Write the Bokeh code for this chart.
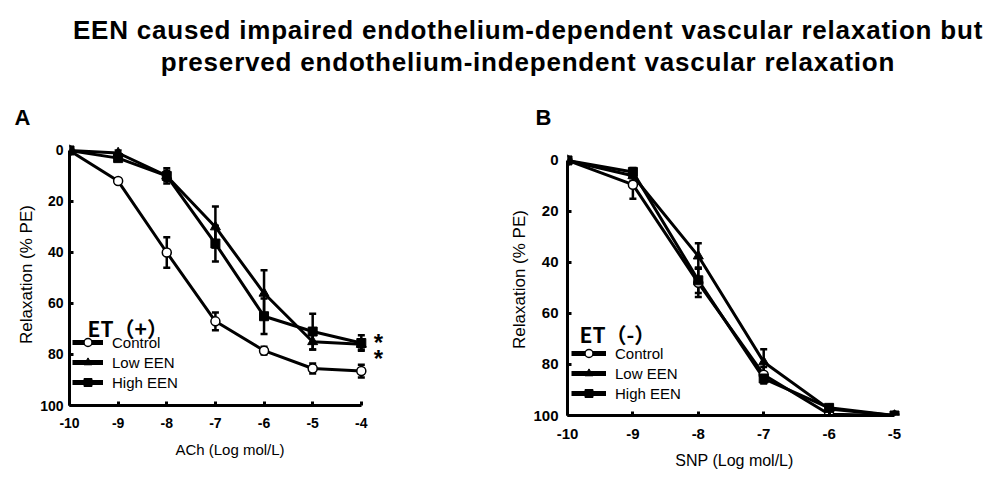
from bokeh.plotting import figure
from bokeh.models import (Div, Whisker, ColumnDataSource, Legend, LegendItem, Label,
                          FixedTicker, Range1d, TeeHead, Spacer)
from bokeh.layouts import column, row
from bokeh.embed import file_html
from bokeh.resources import INLINE

# ---------------- data ----------------
title_lines = ["EEN caused impaired endothelium-dependent vascular relaxation but",
               "preserved endothelium-independent vascular relaxation"]
series_names = ["Control", "Low EEN", "High EEN"]

ach_x = [-10, -9, -8, -7, -6, -5, -4]
ach_control = [0, 12, 40, 67, 78.5, 85.5, 86.5]
ach_control_err = [0, 0, 6, 3.5, 1.5, 2, 2.5]
ach_low = [0, 1, 10, 30, 56, 75, 76]
ach_low_err = [0, 1, 2, 8, 9, 3, 2]
ach_high = [0, 3, 10, 36.5, 65, 71, 75.5]
ach_high_err = [0, 1, 3, 7, 7, 7, 3]

snp_x = [-10, -9, -8, -7, -6, -5]
snp_control = [0, 9.5, 48, 84, 99.5, 100]
snp_control_err = [0, 5.5, 5.5, 3, 0, 0]
snp_low = [0, 6, 37.5, 79, 97.5, 100]
snp_low_err = [0, 2, 5, 5, 1, 0]
snp_high = [0, 4.5, 47, 85.5, 97, 100]
snp_high_err = [0, 1.5, 5, 2, 1, 0]

y_ticks = [0, 20, 40, 60, 80, 100]
ach_ticks = [-10, -9, -8, -7, -6, -5, -4]
snp_ticks = [-10, -9, -8, -7, -6, -5]

FONT = "Liberation Sans"
NAN = float("nan")


def make_panel(letter, xs, series, errs, xticks, x_range, y_range, width, height,
               borders, xlabel, sizes, standoffs, title_offset, title_standoff,
               legend_loc, glyph_w, et_text, et_pos, stars):
    tick_px, xlab_px, ylab_px = sizes
    xl_so, yl_so, xt_so, yt_so = standoffs
    p = figure(width=width, height=height, output_backend="svg", toolbar_location=None,
               x_range=Range1d(*x_range), y_range=Range1d(*y_range),
               min_border_left=borders[0], min_border_right=borders[1],
               min_border_top=borders[2], min_border_bottom=borders[3],
               title=letter)
    p.outline_line_color = None
    p.grid.visible = False
    p.background_fill_color = None
    p.border_fill_color = None
    p.title.text_font = FONT
    p.title.text_font_size = "22px"
    p.title.text_font_style = "bold"
    p.title.text_color = "black"
    p.title.align = "left"
    p.title.offset = title_offset
    p.title.standoff = title_standoff

    for ax in (p.xaxis[0], p.yaxis[0]):
        ax.axis_line_width = 3
        ax.major_tick_line_width = 3
        ax.major_tick_in = 4
        ax.major_tick_out = 0
        ax.minor_tick_in = 0
        ax.minor_tick_out = 0
        ax.major_label_text_font = FONT
        ax.major_label_text_font_style = "bold"
        ax.major_label_text_font_size = f"{tick_px}px"
        ax.major_label_text_color = "black"
        ax.axis_label_text_font = FONT
        ax.axis_label_text_font_style = "normal"
        ax.axis_label_text_color = "black"

    p.xaxis.bounds = (xticks[0], xticks[-1])
    p.xaxis.ticker = FixedTicker(ticks=xticks)
    p.xaxis.major_label_overrides = {t: str(t) for t in xticks}
    p.xaxis.major_label_standoff = xt_so
    p.xaxis.axis_label = xlabel
    p.xaxis.axis_label_text_font_size = f"{xlab_px}px"
    p.xaxis.axis_label_standoff = xl_so

    p.yaxis.bounds = (y_ticks[0], y_ticks[-1])
    p.yaxis.ticker = FixedTicker(ticks=y_ticks)
    p.yaxis.major_label_overrides = {t: str(t) for t in y_ticks}
    p.yaxis.major_label_standoff = yt_so
    p.yaxis.axis_label = "Relaxation (% PE)"
    p.yaxis.axis_label_text_font_size = f"{ylab_px}px"
    p.yaxis.axis_label_standoff = yl_so

    # error bars
    for ys, es in zip(series, errs):
        bx = [x for x, e in zip(xs, es) if e > 0]
        up = [y + e for y, e in zip(ys, es) if e > 0]
        lo = [y - e for y, e in zip(ys, es) if e > 0]
        src = ColumnDataSource(dict(x=bx, upper=up, lower=lo))
        w = Whisker(source=src, base="x", upper="upper", lower="lower",
                    line_width=2.5, line_color="black",
                    upper_head=TeeHead(size=7, line_width=2.5, line_color="black"),
                    lower_head=TeeHead(size=7, line_width=2.5, line_color="black"))
        p.add_layout(w)

    for ys in series:
        p.line(xs, ys, line_width=3, line_color="black")

    marker_specs = [("circle", 9, "white", 1.5), ("triangle", 10, "black", 1),
                    ("square", 9, "black", 1)]
    for ys, (m, s, fc, lw) in zip(series, marker_specs):
        p.scatter(xs, ys, marker=m, size=s, fill_color=fc, line_color="black", line_width=lw)

    # legend-only renderers (thicker line), with no drawable point
    items = []
    for name, (m, s, fc, lw) in zip(series_names, marker_specs):
        src = ColumnDataSource(dict(x=[NAN], y=[NAN]))
        lr = p.line("x", "y", source=src, line_width=5, line_color="black")
        sr = p.scatter("x", "y", source=src, marker=m, size=s, fill_color=fc,
                       line_color="black", line_width=lw)
        items.append(LegendItem(label=name, renderers=[lr, sr]))
    leg = Legend(items=items, location=legend_loc, padding=0, margin=0, spacing=0,
                 glyph_height=20, glyph_width=glyph_w, label_standoff=9,
                 label_text_font=FONT, label_text_font_size="15px", label_text_color="black",
                 label_height=20, border_line_color=None, background_fill_alpha=0)
    p.add_layout(leg, "center")

    p.add_layout(Label(x=xticks[0], y=et_pos[1], x_offset=et_pos[0], text=et_text,
                       text_font="Noto Sans CJK SC", text_font_style="bold",
                       text_font_size="21px", text_baseline="alphabetic", text_color="black"))
    for sy in stars:
        p.add_layout(Label(x=xticks[-1], y=sy, x_offset=17, text="*", text_font=FONT,
                           text_font_style="bold", text_font_size="24px", text_color="black",
                           text_align="center", text_baseline="middle"))
    return p


pA = make_panel("A", ach_x, [ach_control, ach_low, ach_high],
                [ach_control_err, ach_low_err, ach_high_err], ach_ticks,
                (-10, -3.4), (100, -2.73), 497, 386, (61, 115, 54, 69),
                "ACh (Log mol/L)", (14, 15, 17), (10, 1, 12, 6), -55, 28,
                (3, 13), 31, "ET（+）", (18, 69.5), [75.4, 81.6])
pB = make_panel("B", snp_x, [snp_control, snp_low, snp_high],
                [snp_control_err, snp_low_err, snp_high_err], snp_ticks,
                (-10, -4.893), (100, -6.64), 491, 386, (62, 95, 54, 59),
                "SNP (Log mol/L)", (15, 16, 17), (10, 1, 13, 9), -32, 28,
                (4, 12), 35, "ET（-）", (12, 68), [])

title = Div(text=("<div style='position:relative; left:34px; width:988px; text-align:center;"
                  "font-family:\"Liberation Sans\", Arial, sans-serif; font-weight:bold;"
                  "font-size:26px; letter-spacing:0.8px; line-height:32px; padding-top:14px;"
                  "color:black;'>" + title_lines[0] + "<br>" + title_lines[1] + "</div>"),
            width=988, height=88, margin=0)

layout = column(title, row(Spacer(width=8), pA, column(Spacer(height=0), pB)))
open("out.html", "w").write(file_html(layout, INLINE))
